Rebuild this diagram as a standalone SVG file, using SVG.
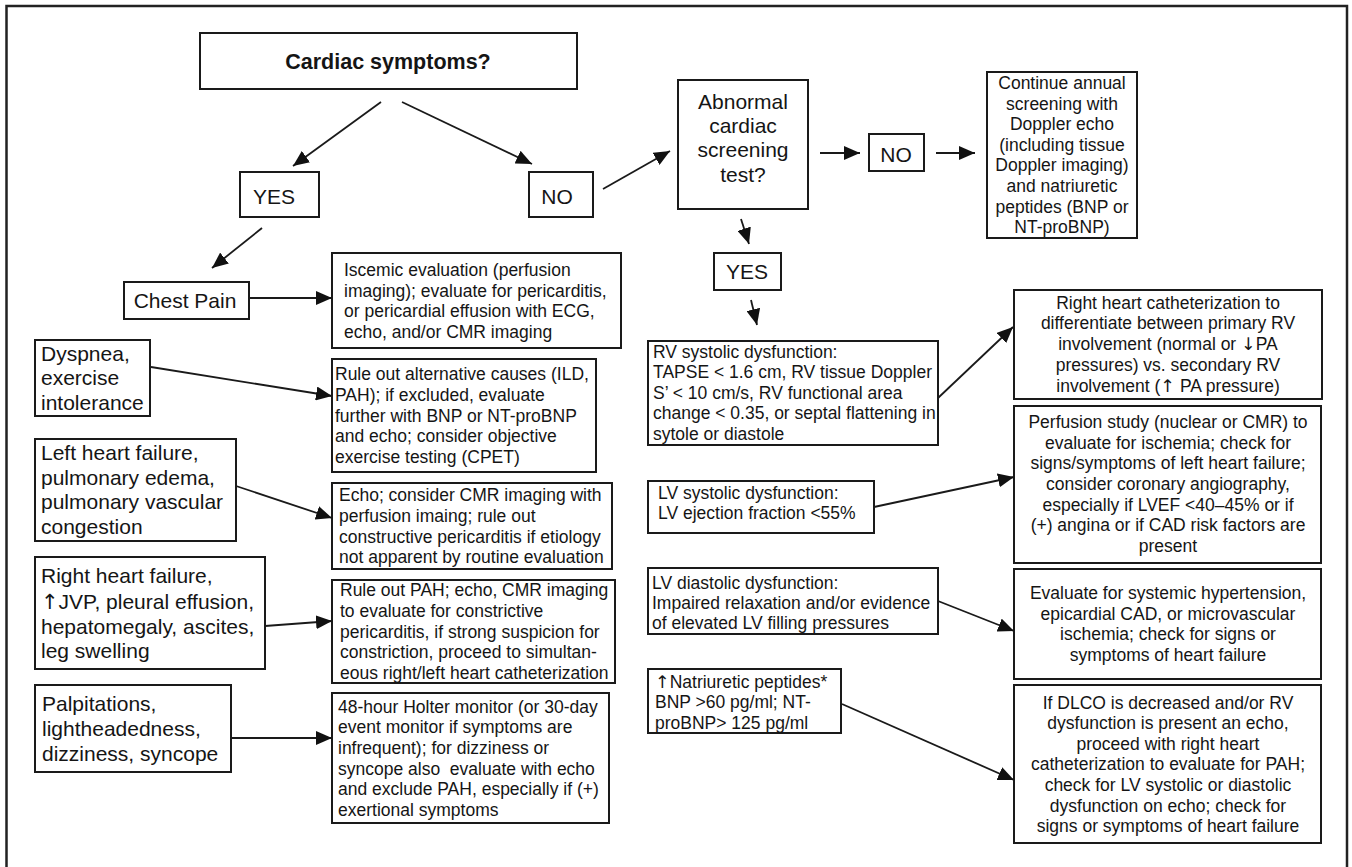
<svg xmlns="http://www.w3.org/2000/svg" width="1352" height="867" viewBox="0 0 1352 867">
<style>
text{font-family:"Liberation Sans",Arial,Helvetica,sans-serif;fill:#151515}
.box{fill:#fff;stroke:#1a1a1a;stroke-width:2}
.s{font-size:17.5px}
.l{font-size:21px}
.b{font-size:21.5px;font-weight:bold}
.c{text-anchor:middle}
.ar{font-family:"DejaVu Sans",sans-serif;font-weight:normal}
.con line{stroke:#1a1a1a;stroke-width:1.8;marker-end:url(#ah)}
</style>
<defs>
<marker id="ah" markerUnits="userSpaceOnUse" markerWidth="17" markerHeight="14" refX="16" refY="7" orient="auto">
<path d="M0,0 L16,7 L0,14 z" fill="#111"/>
</marker>
</defs>
<rect x="0" y="0" width="1352" height="867" fill="#fff"/>
<rect x="6.5" y="6" width="1340.5" height="880" fill="none" stroke="#222" stroke-width="2.5"/>

<g id="cardiac"><rect class="box" x="200" y="33" width="377" height="56"/><text class="b c" x="388" y="69">Cardiac symptoms?</text></g>
<g id="yes1"><rect class="box" x="240" y="172" width="79" height="45"/><text class="l c" x="274" y="204">YES</text></g>
<g id="no1"><rect class="box" x="529" y="172" width="64" height="45"/><text class="l c" x="557" y="204">NO</text></g>
<g id="abnormal"><rect class="box" x="678" y="80" width="130" height="129"/>
<text class="l c" x="743" y="109">Abnormal</text><text class="l c" x="743" y="133">cardiac</text><text class="l c" x="743" y="157">screening</text><text class="l c" x="743" y="182">test?</text></g>
<g id="no2"><rect class="box" x="869" y="134" width="55" height="37"/><text class="l c" x="896" y="162">NO</text></g>
<g id="continue"><rect class="box" x="987" y="72" width="150" height="166"/>
<text class="s c" x="1062" y="89">Continue annual</text><text class="s c" x="1062" y="110">screening with</text><text class="s c" x="1062" y="130">Doppler echo</text><text class="s c" x="1062" y="151">(including tissue</text><text class="s c" x="1062" y="171">Doppler imaging)</text><text class="s c" x="1062" y="192">and natriuretic</text><text class="s c" x="1062" y="213">peptides (BNP or</text><text class="s c" x="1062" y="233">NT-proBNP)</text></g>
<g id="yes2"><rect class="box" x="714" y="253" width="67" height="37"/><text class="l c" x="747" y="279">YES</text></g>

<g id="chestpain"><rect class="box" x="124" y="282" width="125" height="37"/><text class="l c" x="185" y="308">Chest Pain</text></g>
<g id="iscemic"><rect class="box" x="332" y="253" width="289" height="95"/>
<text class="s" x="344" y="276">Iscemic evaluation (perfusion</text><text class="s" x="344" y="297">imaging); evaluate for pericarditis,</text><text class="s" x="344" y="317">or pericardial effusion with ECG,</text><text class="s" x="344" y="338">echo, and/or CMR imaging</text></g>
<g id="dyspnea"><rect class="box" x="35" y="340" width="115" height="76"/>
<text class="l" x="41" y="361">Dyspnea,</text><text class="l" x="41" y="385">exercise</text><text class="l" x="41" y="410">intolerance</text></g>
<g id="ruleout"><rect class="box" x="332" y="359" width="264" height="113"/>
<text class="s" x="335" y="380">Rule out alternative causes (ILD,</text><text class="s" x="335" y="401">PAH); if excluded, evaluate</text><text class="s" x="335" y="422">further with BNP or NT-proBNP</text><text class="s" x="335" y="442">and echo; consider objective</text><text class="s" x="335" y="463">exercise testing (CPET)</text></g>
<g id="lhf"><rect class="box" x="35" y="439" width="201" height="102"/>
<text class="l" x="41" y="460">Left heart failure,</text><text class="l" x="41" y="485">pulmonary edema,</text><text class="l" x="41" y="509">pulmonary vascular</text><text class="l" x="41" y="534">congestion</text></g>
<g id="echo"><rect class="box" x="332" y="483" width="280" height="86"/>
<text class="s" x="339" y="501">Echo; consider CMR imaging with</text><text class="s" x="339" y="522">perfusion imaing; rule out</text><text class="s" x="339" y="543">constructive pericarditis if etiology</text><text class="s" x="339" y="563">not apparent by routine evaluation</text></g>
<g id="rhf"><rect class="box" x="35" y="557" width="230" height="112"/>
<text class="l" x="41" y="583">Right heart failure,</text><text class="l" x="41" y="609"><tspan class="ar">↑</tspan>JVP, pleural effusion,</text><text class="l" x="41" y="634">hepatomegaly, ascites,</text><text class="l" x="41" y="658">leg swelling</text></g>
<g id="ruleoutpah"><rect class="box" x="332" y="580" width="283" height="103"/>
<text class="s" x="340" y="596">Rule out PAH; echo, CMR imaging</text><text class="s" x="340" y="617">to evaluate for constrictive</text><text class="s" x="340" y="638">pericarditis, if strong suspicion for</text><text class="s" x="340" y="658">constriction, proceed to simultan-</text><text class="s" x="340" y="679">eous right/left heart catheterization</text></g>
<g id="palp"><rect class="box" x="35" y="685" width="196" height="87"/>
<text class="l" x="42" y="711">Palpitations,</text><text class="l" x="42" y="736">lightheadedness,</text><text class="l" x="42" y="761">dizziness, syncope</text></g>
<g id="holter"><rect class="box" x="332" y="693" width="277" height="130"/>
<text class="s" x="338" y="713">48-hour Holter monitor (or 30-day</text><text class="s" x="338" y="733">event monitor if symptoms are</text><text class="s" x="338" y="754">infrequent); for dizziness or</text><text class="s" x="338" y="775" xml:space="preserve">syncope also  evaluate with echo</text><text class="s" x="338" y="795">and exclude PAH, especially if (+)</text><text class="s" x="338" y="816">exertional symptoms</text></g>

<g id="rvsys"><rect class="box" x="648" y="341" width="290" height="104"/>
<text class="s" x="653" y="358">RV systolic dysfunction:</text><text class="s" x="653" y="378">TAPSE &lt; 1.6 cm, RV tissue Doppler</text><text class="s" x="653" y="399">S’ &lt; 10 cm/s, RV functional area</text><text class="s" x="653" y="419">change &lt; 0.35, or septal flattening in</text><text class="s" x="653" y="440">sytole or diastole</text></g>
<g id="lvsys"><rect class="box" x="648" y="481" width="226" height="52"/>
<text class="s" x="658" y="499">LV systolic dysfunction:</text><text class="s" x="658" y="519">LV ejection fraction &lt;55%</text></g>
<g id="lvdia"><rect class="box" x="648" y="568" width="290" height="66"/>
<text class="s" x="652" y="589">LV diastolic dysfunction:</text><text class="s" x="652" y="609">Impaired relaxation and/or evidence</text><text class="s" x="652" y="629">of elevated LV filling pressures</text></g>
<g id="natri"><rect class="box" x="648" y="669" width="193" height="64"/>
<text class="s" x="655" y="688"><tspan class="ar">↑</tspan>Natriuretic peptides*</text><text class="s" x="655" y="708">BNP &gt;60 pg/ml; NT-</text><text class="s" x="655" y="729">proBNP&gt; 125 pg/ml</text></g>

<g id="rhcath"><rect class="box" x="1014" y="290" width="308" height="109"/>
<text class="s c" x="1168" y="309">Right heart catheterization to</text><text class="s c" x="1168" y="329">differentiate between primary RV</text><text class="s c" x="1168" y="350">involvement (normal or <tspan class="ar">↓</tspan>PA</text><text class="s c" x="1168" y="371">pressures) vs. secondary RV</text><text class="s c" x="1168" y="392">involvement (<tspan class="ar">↑</tspan> PA pressure)</text></g>
<g id="perfusion"><rect class="box" x="1014" y="406" width="307" height="157"/>
<text class="s c" x="1168" y="428">Perfusion study (nuclear or CMR) to</text><text class="s c" x="1168" y="449">evaluate for ischemia; check for</text><text class="s c" x="1168" y="469">signs/symptoms of left heart failure;</text><text class="s c" x="1168" y="490">consider coronary angiography,</text><text class="s c" x="1168" y="511">especially if LVEF &lt;40–45% or if</text><text class="s c" x="1168" y="531">(+) angina or if CAD risk factors are</text><text class="s c" x="1168" y="552">present</text></g>
<g id="evaluate"><rect class="box" x="1014" y="569" width="307" height="110"/>
<text class="s c" x="1168" y="599">Evaluate for systemic hypertension,</text><text class="s c" x="1168" y="620">epicardial CAD, or microvascular</text><text class="s c" x="1168" y="640">ischemia; check for signs or</text><text class="s c" x="1168" y="661">symptoms of heart failure</text></g>
<g id="dlco"><rect class="box" x="1014" y="685" width="307" height="158"/>
<text class="s c" x="1168" y="709">If DLCO is decreased and/or RV</text><text class="s c" x="1168" y="729">dysfunction is present an echo,</text><text class="s c" x="1168" y="750">proceed with right heart</text><text class="s c" x="1168" y="770">catheterization to evaluate for PAH;</text><text class="s c" x="1168" y="791">check for LV systolic or diastolic</text><text class="s c" x="1168" y="812">dysfunction on echo; check for</text><text class="s c" x="1168" y="832">signs or symptoms of heart failure</text></g>

<g id="connectors" class="con">
<line x1="381" y1="102" x2="293" y2="166"/>
<line x1="402" y1="102" x2="532" y2="164"/>
<line x1="603" y1="189" x2="670" y2="151"/>
<line x1="262" y1="228" x2="212" y2="268"/>
<line x1="820" y1="153" x2="860" y2="153"/>
<line x1="936" y1="153" x2="975" y2="153"/>
<line x1="741" y1="219" x2="749" y2="244"/>
<line x1="751" y1="300" x2="757" y2="325"/>
<line x1="249" y1="298" x2="332" y2="298"/>
<line x1="151" y1="367" x2="332" y2="396"/>
<line x1="236" y1="486" x2="332" y2="518"/>
<line x1="265" y1="626" x2="332" y2="621"/>
<line x1="231" y1="738" x2="332" y2="738"/>
<line x1="938" y1="398" x2="1013" y2="327"/>
<line x1="874" y1="507" x2="1014" y2="477"/>
<line x1="938" y1="601" x2="1014" y2="631"/>
<line x1="842" y1="704" x2="1014" y2="780"/>
</g>
</svg>
